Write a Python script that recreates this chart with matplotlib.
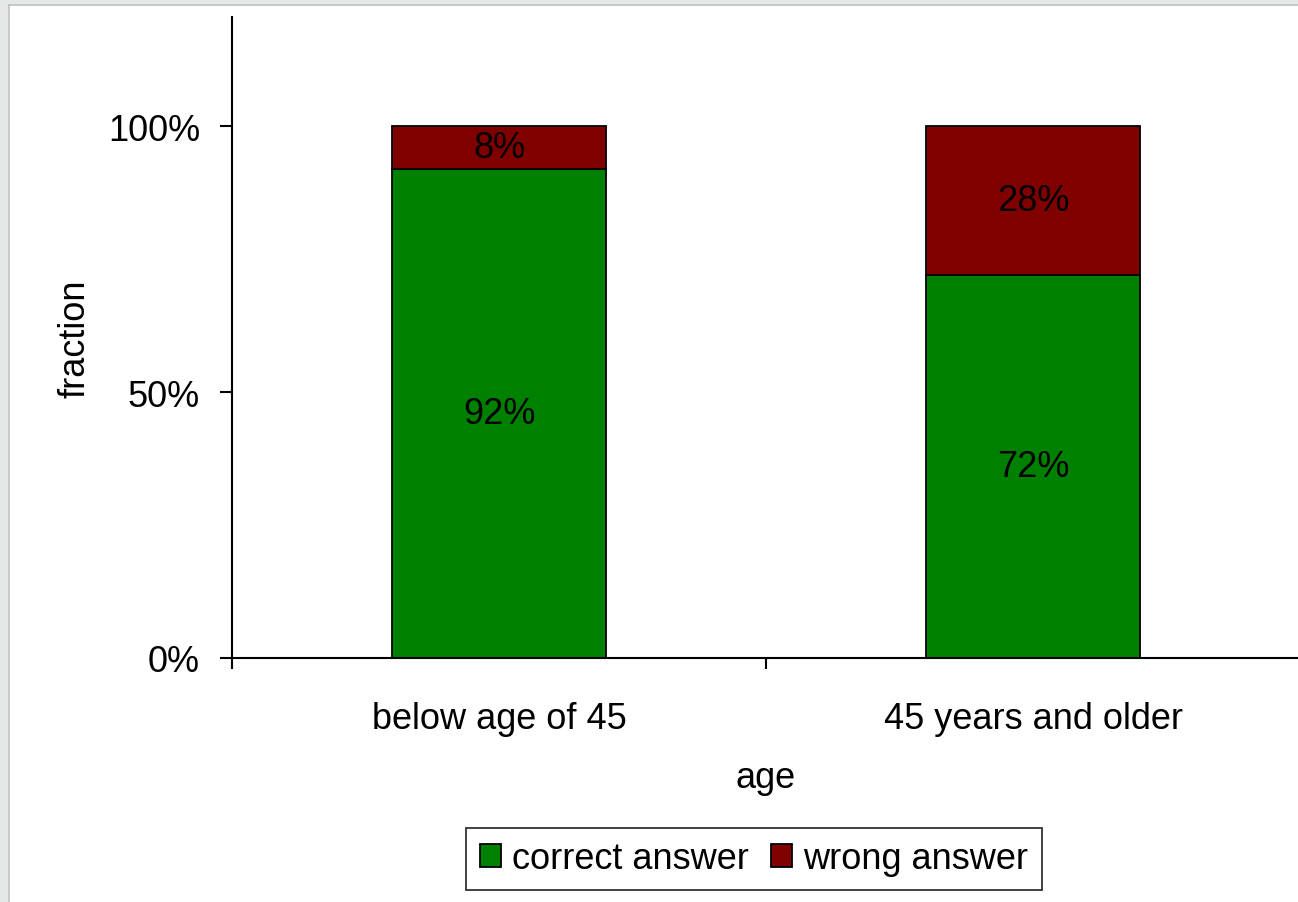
import matplotlib.pyplot as plt
from matplotlib.patches import Rectangle
from matplotlib.lines import Line2D
import matplotlib.ticker as plticker

plt.rcParams['font.family'] = ['Liberation Sans', 'DejaVu Sans']

# Data
categories = ['below age of 45', '45 years and older']
correct = [92, 72]
wrong = [8, 28]
series_names = ['correct answer', 'wrong answer']
colors = ['#008000', '#800000']

FS = 26
W, H = 1298, 903
fig = plt.figure(figsize=(W / 100, H / 100), dpi=100)
fig.patch.set_facecolor('#e4e9e7')

# white page with a thin gray frame on the top and left
fig.add_artist(Rectangle((9 / W, 0), 1, (H - 6) / H, transform=fig.transFigure,
                         facecolor='white', edgecolor='none', zorder=0))
fig.add_artist(Line2D([8.5 / W, 8.5 / W], [0, (H - 5.5) / H], transform=fig.transFigure,
                      color='#c0c0c0', lw=1.2, zorder=1))
fig.add_artist(Line2D([8.5 / W, 1], [(H - 5.5) / H, (H - 5.5) / H], transform=fig.transFigure,
                      color='#c0c0c0', lw=1.2, zorder=1))

ax = fig.add_axes([232 / W, (H - 659) / H, 1068 / W, 641 / H])
ax.set_facecolor('none')

x = [i + 0.5 for i in range(len(categories))]
fr_correct = [v / 100 for v in correct]
fr_wrong = [v / 100 for v in wrong]
bw = 0.402

b1 = ax.bar(x, fr_correct, width=bw, color=colors[0], edgecolor='black', lw=1.3,
            label=series_names[0])
b2 = ax.bar(x, fr_wrong, width=bw, bottom=fr_correct, color=colors[1], edgecolor='black',
            lw=1.3, label=series_names[1])

# value labels in the middle of each segment
for xi, c, w in zip(x, correct, wrong):
    ax.text(xi, c / 200, '{}%'.format(c), ha='center', va='center', fontsize=FS)
    ax.text(xi, c / 100 + w / 200, '{}%'.format(w), ha='center', va='center', fontsize=FS)

ax.set_xlim(0, 2)
ax.set_ylim(0, 1.205)
ax.set_yticks([0, 0.5, 1.0])
ax.yaxis.set_major_formatter(plticker.FuncFormatter(lambda v, p: '{:.0f}%'.format(v * 100)))
ax.set_xticks([0, 1, 2])
ax.set_xticklabels([])
ax.set_xticks(x, minor=True)
ax.set_xticklabels(categories, minor=True)
ax.tick_params(axis='x', which='minor', length=0, pad=31, labelsize=FS)
ax.tick_params(axis='x', which='major', length=8, width=1.5, direction='out')
ax.tick_params(axis='y', length=9, width=1.5, direction='out', pad=14, labelsize=FS)

for side in ['top', 'right']:
    ax.spines[side].set_visible(False)
for side in ['left', 'bottom']:
    ax.spines[side].set_linewidth(1.5)

ax.set_ylabel('fraction', fontsize=FS, labelpad=11)
ax.set_xlabel('age', fontsize=FS, labelpad=17)

leg = fig.legend(handles=[b1, b2], loc='center', bbox_to_anchor=(754 / W, (H - 860) / H),
                 ncol=2, fontsize=FS, frameon=True, fancybox=False, handlelength=0.6,
                 handleheight=0.6, handletextpad=0.3, columnspacing=0.6, borderpad=0.38,
                 borderaxespad=0)
leg.get_frame().set_edgecolor('black')
leg.get_frame().set_linewidth(1.3)

fig.savefig('out.png', dpi=100, facecolor=fig.get_facecolor())
